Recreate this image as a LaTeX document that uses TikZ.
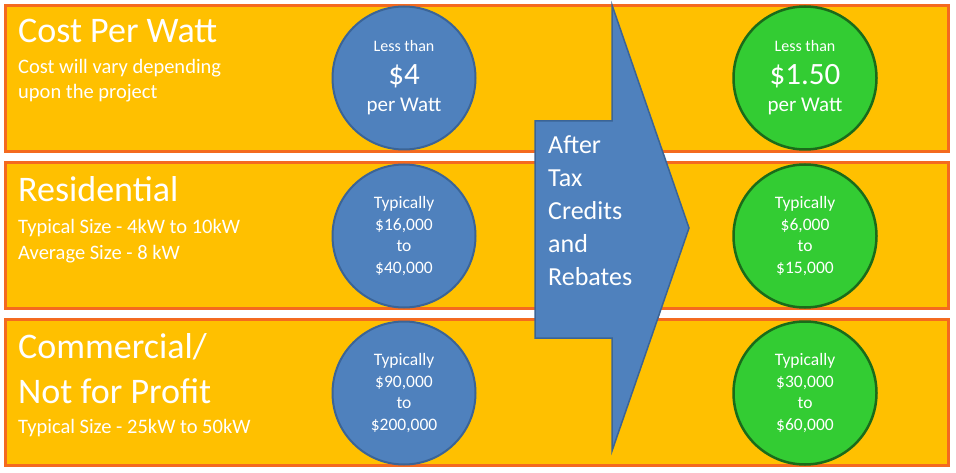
\documentclass[tikz,border=0pt]{standalone}
\usepackage{fontspec}
\setmainfont{Carlito}
\usetikzlibrary{positioning}
\definecolor{bandfill}{HTML}{FFC000}
\definecolor{bandline}{HTML}{F46A1F}
\definecolor{bluefill}{HTML}{4F81BD}
\definecolor{blueline}{HTML}{3B6496}
\definecolor{greenfill}{HTML}{33CC33}
\definecolor{greenline}{HTML}{1A6B1A}

\begin{document}
\begin{tikzpicture}[
  x=1pt, y=-1pt,
  band/.style     ={draw=bandline, fill=bandfill, line width=3pt, minimum width=943pt, minimum height=146pt, inner sep=0pt},
  oldcost/.style  ={circle, draw=blueline, fill=bluefill, line width=2pt, minimum size=143pt, inner sep=0pt, align=center, text=white, font=\fontsize{17.5}{21.5}\selectfont},
  newcost/.style  ={oldcost, draw=greenline, fill=greenfill, line width=2.5pt},
  bandtitle/.style={anchor=base west, inner sep=0pt, align=left, text=white, font=\fontsize{36}{45}\selectfont},
  bandnote/.style ={anchor=base west, inner sep=0pt, align=left, text=white, font=\fontsize{20.5}{25.5}\selectfont},
  bigarrow/.style ={draw=blueline, fill=bluefill, line width=1.5pt, line join=miter},
]
\useasboundingbox (0,0) rectangle (956,473);

% ---------- bands ----------
\node[band] (watt) at (476.5,78.5)  {};
\node[band] (res)  at (476.5,235.5) {};
\node[band] (com)  at (476.5,392.5) {};

% ---------- band texts (base = last line) ----------
\node[bandtitle] (watttitle) at (18,43)  {Cost Per Watt};
\node[bandnote]  (wattnote)  at (18,99)  {Cost will vary depending\\upon the project};
\node[bandtitle] (restitle)  at (18,202) {Residential};
\node[bandnote]  (resnote)   at (18,259) {Typical Size - 4kW to 10kW\\Average Size - 8 kW};
\node[bandtitle] (comtitle)  at (18,403) {Commercial/\\Not for Profit};
\node[bandnote]  (comnote)   at (18,433) {Typical Size - 25kW to 50kW};

% ---------- before credits ----------
\node[oldcost, font=\fontsize{16}{30}\selectfont] (wattold) at (404,78)
  {Less than\\[3pt]{\fontsize{31}{30}\selectfont\$4}\\[-3pt]{\fontsize{21}{30}\selectfont per Watt}};
\node[oldcost] (resold) at (404,236) {Typically\\\$16,000\\to\\\$40,000};
\node[oldcost] (comold) at (404,393) {Typically\\\$90,000\\to\\\$200,000};

% ---------- after credits ----------
\node[newcost, font=\fontsize{16}{30}\selectfont] (wattnew) at (805,78)
  {Less than\\[3pt]{\fontsize{31}{30}\selectfont\$1.50}\\[-3pt]{\fontsize{21}{30}\selectfont per Watt}};
\node[newcost] (resnew) at (805,236) {Typically\\\$6,000\\to\\\$15,000};
\node[newcost] (comnew) at (805,393) {Typically\\\$30,000\\to\\\$60,000};

% ---------- arrow ----------
\draw[bigarrow] (535,121) -- (612,121) -- (612,5) -- (689,228) -- (612,451) -- (612,338) -- (535,338) -- cycle;
\node[anchor=base west, inner sep=0pt, align=left, text=white, font=\fontsize{26}{33}\selectfont] (credits) at (548,285)
  {After\\Tax\\Credits\\and\\Rebates};

\end{tikzpicture}
\end{document}
